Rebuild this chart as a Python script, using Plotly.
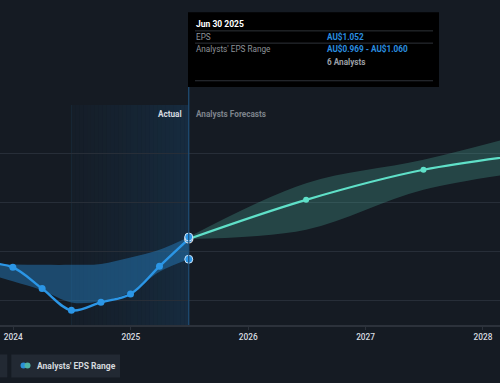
import plotly.graph_objects as go
import pandas as pd

# ---------------- data ----------------
actual_dates = ["2023-09-30", "2023-12-31", "2024-03-31", "2024-06-30",
                "2024-09-30", "2024-12-31", "2025-03-31", "2025-06-30"]
actual_eps = [0.955, 0.936, 0.849, 0.760, 0.793, 0.827, 0.940, 1.052]
past_range_low = [0.915, 0.879, 0.842, 0.792, 0.797, 0.833, 0.918, 0.969]
past_range_high = [0.952, 0.948, 0.946, 0.946, 0.950, 0.976, 1.008, 1.060]

fc_dates = ["2025-06-30", "2026-06-30", "2027-06-30", "2028-06-30"]
fc_eps = [1.052, 1.212, 1.335, 1.405]
fc_low = [1.052, 1.090, 1.253, 1.335]
fc_high = [1.060, 1.280, 1.376, 1.500]

tick_vals = ["2024-01-01", "2025-01-01", "2026-01-01", "2027-01-01", "2028-01-01"]
tick_text = ["2024", "2025", "2026", "2027", "2028"]

past_year_start = "2024-06-30"
hover_date = "2025-06-30"
hover_title = "Jun 30 2025"
hover_eps = "AU$1.052"
hover_range = "AU$0.969 - AU$1.060"
hover_analysts = "6 Analysts"

# ---------------- style ----------------
BG = "#151b23"
BLUE = "#2b96e6"
TEAL = "#5fe0c8"
FONT = "Roboto"

W, H = 500, 383
TOP, BOT = 105, 325.5


def px(x):
    return x / W


def py(y):
    return (BOT - y) / (BOT - TOP)


fig = go.Figure()

# past analysts range band
fig.add_trace(go.Scatter(x=actual_dates, y=past_range_low, mode="lines",
                         line=dict(width=0, shape="spline"), showlegend=False,
                         hoverinfo="skip"))
fig.add_trace(go.Scatter(x=actual_dates, y=past_range_high, mode="lines",
                         line=dict(width=0, shape="spline"), fill="tonexty",
                         fillcolor="rgba(38,130,200,0.45)", showlegend=False,
                         hoverinfo="skip"))
# forecast range band
fig.add_trace(go.Scatter(x=fc_dates, y=fc_low, mode="lines",
                         line=dict(width=0, shape="spline"), showlegend=False,
                         hoverinfo="skip"))
fig.add_trace(go.Scatter(x=fc_dates, y=fc_high, mode="lines",
                         line=dict(width=0, shape="spline"), fill="tonexty",
                         fillcolor="rgba(80,180,160,0.28)", showlegend=False,
                         hoverinfo="skip"))
# actual line
fig.add_trace(go.Scatter(x=actual_dates, y=actual_eps, mode="lines+markers",
                         line=dict(color=BLUE, width=2.4, shape="spline"),
                         marker=dict(color=BLUE, size=7), showlegend=False,
                         hoverinfo="skip"))
# forecast line
fig.add_trace(go.Scatter(x=fc_dates[1:], y=fc_eps[1:], mode="markers",
                         marker=dict(color=TEAL, size=6), showlegend=False,
                         hoverinfo="skip"))
fig.add_trace(go.Scatter(x=fc_dates, y=fc_eps, mode="lines",
                         line=dict(color=TEAL, width=2.2, shape="spline"),
                         showlegend=False, hoverinfo="skip"))
# hover markers
fig.add_trace(go.Scatter(x=[hover_date], y=[actual_eps[-1]], mode="markers",
                         marker=dict(color="rgba(0,0,0,0)", size=8,
                                     line=dict(color="#d8dde3", width=1.3)),
                         showlegend=False, hoverinfo="skip"))
fig.add_trace(go.Scatter(x=[hover_date, hover_date], y=[past_range_high[-1], past_range_low[-1]],
                         mode="markers",
                         marker=dict(color=BLUE, size=8, line=dict(color="#cfe3f5", width=1)),
                         showlegend=False, hoverinfo="skip"))

shapes = []
# past-year highlight with a left-to-right gradient
t0 = pd.Timestamp(past_year_start)
t1 = pd.Timestamp(hover_date)
N = 30
for i in range(N):
    a = t0 + (t1 - t0) * i / N
    b = t0 + (t1 - t0) * (i + 1) / N
    alpha = 0.04 + 0.15 * (i / (N - 1)) ** 1.3
    shapes.append(dict(type="rect", xref="x", yref="paper", x0=a, x1=b,
                       y0=0, y1=1, fillcolor=f"rgba(30,115,185,{alpha:.3f})",
                       line=dict(width=0), layer="below"))
shapes += [
    dict(type="line", xref="x", yref="paper", x0=past_year_start, x1=past_year_start,
         y0=0, y1=1, line=dict(color="rgba(40,90,130,0.18)", width=1), layer="below"),
    # hover vertical line
    dict(type="line", xref="x", yref="paper", x0=hover_date, x1=hover_date,
         y0=0, y1=py(87), line=dict(color="#1f4f78", width=1.2)),
    # tooltip box
    dict(type="rect", xref="paper", yref="paper", x0=px(188), x1=px(439),
         y0=py(87), y1=py(12), fillcolor="#000000", line=dict(width=0)),
    # legend boxes
    dict(type="rect", xref="paper", yref="paper", x0=px(-10), x1=px(7.3),
         y0=py(378), y1=py(355), fillcolor="#222933", line=dict(width=0)),
    dict(type="rect", xref="paper", yref="paper", x0=px(11.3), x1=px(120),
         y0=py(378), y1=py(355), fillcolor="#222933", line=dict(width=0)),
    dict(type="circle", xref="paper", yref="paper", x0=px(20.5), x1=px(26.5),
         y0=py(369), y1=py(363), fillcolor="#2a8fd6", line=dict(width=0)),
    dict(type="circle", xref="paper", yref="paper", x0=px(24.5), x1=px(30.5),
         y0=py(369), y1=py(363), fillcolor="#4fb3a4", line=dict(width=0)),
]
for yy in (30.7, 43, 80.7):
    shapes.append(dict(type="line", xref="paper", yref="paper", x0=px(195), x1=px(433),
                       y0=py(yy), y1=py(yy), line=dict(color="#2e3238", width=1)))

FS = 8.2
annotations = [
    dict(text="<b>Actual</b>", xref="x", yref="paper", x=hover_date, y=py(114),
         xanchor="right", yanchor="middle", xshift=-5, showarrow=False,
         font=dict(family=FONT, size=FS, color="#d7dbe0")),
    dict(text="<b>Analysts Forecasts</b>", xref="x", yref="paper", x=hover_date, y=py(114),
         xanchor="left", yanchor="middle", xshift=5, showarrow=False,
         font=dict(family=FONT, size=FS, color="#7d838b")),
    dict(text="<b>" + hover_title + "</b>", xref="paper", yref="paper", x=px(193.5), y=py(23.5),
         xanchor="left", yanchor="middle", showarrow=False,
         font=dict(family=FONT, size=FS + 0.3, color="#ffffff")),
    dict(text="EPS", xref="paper", yref="paper", x=px(193.5), y=py(36.5),
         xanchor="left", yanchor="middle", showarrow=False,
         font=dict(family=FONT, size=FS, color="#8d9298")),
    dict(text="<b>" + hover_eps + "</b>", xref="paper", yref="paper", x=px(325), y=py(36.5),
         xanchor="left", yanchor="middle", showarrow=False,
         font=dict(family=FONT, size=FS, color="#2a8fe0")),
    dict(text="Analysts' EPS Range", xref="paper", yref="paper", x=px(193.5), y=py(49),
         xanchor="left", yanchor="middle", showarrow=False,
         font=dict(family=FONT, size=FS, color="#8d9298")),
    dict(text="<b>" + hover_range + "</b>", xref="paper", yref="paper", x=px(325), y=py(49),
         xanchor="left", yanchor="middle", showarrow=False,
         font=dict(family=FONT, size=FS, color="#2a8fe0")),
    dict(text="<b>" + hover_analysts + "</b>", xref="paper", yref="paper", x=px(325), y=py(61.5),
         xanchor="left", yanchor="middle", showarrow=False,
         font=dict(family=FONT, size=FS, color="#9a9fa5")),
    dict(text="<b>Analysts' EPS Range</b>", xref="paper", yref="paper", x=px(35), y=py(366.5),
         xanchor="left", yanchor="middle", showarrow=False,
         font=dict(family=FONT, size=FS + 0.3, color="#d5d9de")),
]

fig.update_layout(
    width=W, height=H,
    margin=dict(l=0, r=0, t=TOP, b=H - BOT, autoexpand=False),
    paper_bgcolor=BG, plot_bgcolor=BG,
    shapes=shapes, annotations=annotations,
    showlegend=False,
    xaxis=dict(type="date", range=["2023-11-21", "2028-02-23"],
               tickvals=tick_vals, ticktext=tick_text, showgrid=False,
               showline=True, linecolor="#2c323b", linewidth=2,
               ticks="outside", ticklen=3, tickcolor="#2c323b",
               tickfont=dict(family=FONT, size=8.3, color="#d8dce0", weight=500),
               zeroline=False, fixedrange=True),
    yaxis=dict(range=[0.7, 1.6], tickvals=[0.8, 1.0, 1.2, 1.4, 1.6], showticklabels=False,
               showgrid=True, gridcolor="#272e38", gridwidth=1, zeroline=False,
               fixedrange=True),
)

fig.write_html("out.html", config={"displayModeBar": False},
               post_script="document.body.style.margin='0px';document.body.style.background='%s';" % BG)
